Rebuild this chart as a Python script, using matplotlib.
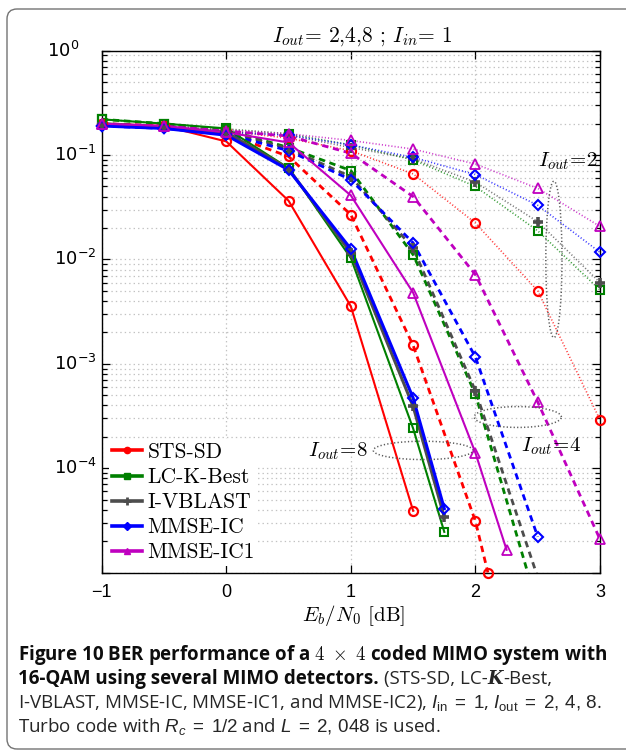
import numpy as np
import matplotlib
matplotlib.use('Agg')
import matplotlib.pyplot as plt
from matplotlib.lines import Line2D
from matplotlib.patches import FancyBboxPatch
from matplotlib.ticker import LogLocator, NullFormatter, FixedLocator

plt.rcParams['mathtext.fontset'] = 'cm'
plt.rcParams['mathtext.rm'] = 'Liberation Sans'
plt.rcParams['mathtext.it'] = 'Liberation Sans:italic'
plt.rcParams['mathtext.bf'] = 'Liberation Sans:bold'
plt.rcParams['lines.scale_dashes'] = False
plt.rcParams['axes.formatter.use_mathtext'] = True

# ---------------- data ----------------
detectors = ['STS-SD', 'LC-K-Best', 'I-VBLAST', 'MMSE-IC', 'MMSE-IC1']

# I_out = 8 (solid)
x8_sts = [-1, -0.5, 0, 0.5, 1, 1.5]
ber8_sts = [0.20, 0.19, 0.135, 0.0365, 0.00355, 3.9e-5]
x8 = [-1, -0.5, 0, 0.5, 1, 1.5, 1.75]
ber8_lck = [0.22, 0.20, 0.18, 0.075, 0.0103, 2.4e-4, 2.45e-5]
ber8_ivb = [0.20, 0.185, 0.165, 0.074, 0.0115, 3.9e-4, 3.4e-5]
ber8_mmse = [0.19, 0.18, 0.155, 0.072, 0.0126, 4.7e-4, 4.1e-5]
x8_ic1 = [-1, -0.5, 0, 0.5, 1, 1.5, 2, 2.25]
ber8_ic1 = [0.20, 0.19, 0.165, 0.132, 0.041, 0.0048, 1.4e-4, 1.65e-5]

# I_out = 4 (dashed)
x4_sts = [-1, -0.5, 0, 0.5, 1, 1.5, 2, 2.1]
ber4_sts = [0.20, 0.19, 0.16, 0.097, 0.0268, 1.5e-3, 3.1e-5, 1.0e-5]
x4 = [-1, -0.5, 0, 0.5, 1, 1.5, 2, 2.5]
ber4_lck = [0.22, 0.20, 0.175, 0.118, 0.071, 0.0111, 5.1e-4, 4.7e-6]
ber4_ivb = [0.20, 0.185, 0.168, 0.115, 0.062, 0.0128, 5.5e-4, 9.0e-6]
ber4_mmse = [0.19, 0.18, 0.16, 0.11, 0.058, 0.0144, 1.16e-3, 2.2e-5]
x4_ic1 = [-1, -0.5, 0, 0.5, 1, 1.5, 2, 2.5, 3]
ber4_ic1 = [0.20, 0.19, 0.17, 0.152, 0.104, 0.040, 0.00714, 4.3e-4, 2.08e-5]

# I_out = 2 (dotted)
x2 = [-1, -0.5, 0, 0.5, 1, 1.5, 2, 2.5, 3]
ber2_sts = [0.20, 0.19, 0.17, 0.145, 0.11, 0.066, 0.0223, 5.0e-3, 2.9e-4]
ber2_lck = [0.22, 0.20, 0.178, 0.16, 0.125, 0.090, 0.050, 0.0188, 0.0051]
ber2_ivb = [0.20, 0.185, 0.17, 0.155, 0.118, 0.092, 0.055, 0.023, 0.0060]
ber2_mmse = [0.19, 0.18, 0.165, 0.155, 0.125, 0.095, 0.065, 0.033, 0.0117]
ber2_ic1 = [0.20, 0.19, 0.175, 0.16, 0.138, 0.114, 0.082, 0.048, 0.0207]

xticks = [-1, 0, 1, 2, 3]
xticklabels = ['\u22121', '0', '1', '2', '3']
yexps = [0, -1, -2, -3, -4]

# annotation ellipses: (center x, center log10 y, half width dB, half height decades)
ell_2 = (2.63, -2.0, 0.065, 0.75)
ell_4 = (2.34, -3.51, 0.35, 0.10)
ell_8 = (1.58, -3.83, 0.40, 0.088)

# ---------------- style ----------------
colors = {'STS-SD': (1, 0, 0), 'LC-K-Best': (0, 0.5, 0), 'I-VBLAST': (0.3, 0.3, 0.3),
          'MMSE-IC': (0, 0, 1), 'MMSE-IC1': (0.75, 0, 0.75)}
markers = {'STS-SD': 'o', 'LC-K-Best': 's', 'I-VBLAST': '+', 'MMSE-IC': 'D', 'MMSE-IC1': '^'}
msizes = {'STS-SD': 6.5, 'LC-K-Best': 5.5, 'I-VBLAST': 7.5, 'MMSE-IC': 5.5, 'MMSE-IC1': 7.5}
mews = {'STS-SD': 1.6, 'LC-K-Best': 1.5, 'I-VBLAST': 2.6, 'MMSE-IC': 1.5, 'MMSE-IC1': 1.3}
solid_lw = {'STS-SD': 1.5, 'LC-K-Best': 1.5, 'I-VBLAST': 2.2, 'MMSE-IC': 2.2, 'MMSE-IC1': 1.5}

W, H = 626, 752
fig = plt.figure(figsize=(W / 100, H / 100), dpi=100)
ax = fig.add_axes([101.7 / W, 1 - 572.5 / H, (600 - 101.7) / W, (572.5 - 50.7) / H])
ax.set_yscale('log')
ax.set_xlim(-1, 3)
ax.set_ylim(1e-5, 1)
YMIN = 1e-5


def draw(xs, ys, name, style):
    c = colors[name]
    xs = np.asarray(xs, float)
    ys = np.asarray(ys, float)
    if style == 'solid':
        ax.plot(xs, ys, color=c, lw=solid_lw[name], ls='-', zorder=3)
    elif style == 'dashed':
        ax.plot(xs, ys, color=c, lw=2.0, dashes=(4.6, 3.4), zorder=3)
    else:
        ax.plot(xs, ys, color=c, lw=1.2, dashes=(0.8, 1.5), alpha=0.75, zorder=2)
    m = ys >= YMIN * 0.999
    ax.plot(xs[m], ys[m], ls='none', marker=markers[name], ms=msizes[name],
            mew=mews[name], mfc='none', mec=c, clip_on=False, zorder=4)


# dotted (I_out = 2)
for nm, yv in zip(detectors, [ber2_sts, ber2_lck, ber2_ivb, ber2_mmse, ber2_ic1]):
    draw(x2, yv, nm, 'dotted')
# dashed (I_out = 4)
for nm, xv, yv in zip(detectors, [x4_sts, x4, x4, x4, x4_ic1],
                      [ber4_sts, ber4_lck, ber4_ivb, ber4_mmse, ber4_ic1]):
    draw(xv, yv, nm, 'dashed')
# solid (I_out = 8)
for nm, xv, yv in zip(detectors, [x8_sts, x8, x8, x8, x8_ic1],
                      [ber8_sts, ber8_lck, ber8_ivb, ber8_mmse, ber8_ic1]):
    draw(xv, yv, nm, 'solid')

# ellipses
tt = np.linspace(0, 2 * np.pi, 300)
for cx, cy, a, b in (ell_2, ell_4, ell_8):
    ax.plot(cx + a * np.cos(tt), 10 ** (cy + b * np.sin(tt)), color='0.35',
            lw=1.1, dashes=(0.9, 1.6), zorder=5)

ax.text(2.985, 10 ** -1.055, r'$I_{out}\!=\!2$', ha='right', va='center', fontsize=15, zorder=6)
ax.text(0.897, 10 ** -3.837, r'$I_{out}\!=\!8$', ha='center', va='center', fontsize=15, zorder=6)
ax.text(2.606, 10 ** -3.79, r'$I_{out}\!=\!4$', ha='center', va='center', fontsize=15, zorder=6)

# grid / ticks
ax.xaxis.set_major_locator(FixedLocator(xticks))
ax.set_xticklabels(xticklabels, fontfamily='Liberation Sans', fontsize=13)
ax.yaxis.set_major_locator(LogLocator(base=10, numticks=10))
ax.yaxis.set_minor_locator(LogLocator(base=10, subs=np.arange(2, 10), numticks=20))
ax.yaxis.set_major_formatter(NullFormatter())
ax.yaxis.set_minor_formatter(NullFormatter())
ax.grid(True, which='major', axis='both', color='0.76', lw=0.9, dashes=(1, 2.2))
ax.grid(True, which='minor', axis='y', color='0.76', lw=0.9, dashes=(1, 2.2))
ax.set_axisbelow(True)
ax.tick_params(which='both', direction='in', top=True, right=True, width=0.9)
ax.tick_params(which='major', length=6, pad=8)
ax.tick_params(which='minor', length=3.5)
for sp in ax.spines.values():
    sp.set_linewidth(1.0)

# y tick labels (manual, Helvetica-like)
for e in yexps:
    xr = -0.045 if e == 0 else -0.01
    ax.text(xr, 10.0 ** e, r'$\mathdefault{10^{%d}}$' % e, transform=ax.get_yaxis_transform(),
            ha='right', va='center', fontsize=13, math_fontfamily='custom')

# legend
handles = [Line2D([], [], color=colors[n], lw=2.6, marker=markers[n],
                  ms=(4.5 if markers[n] != '+' else 6), mew=(1 if markers[n] != '+' else 2),
                  mfc=colors[n], mec=colors[n]) for n in detectors]
leg = ax.legend(handles, detectors, loc='lower left', prop={'family': 'cmr10', 'size': 15.5},
                handlelength=1.4, handletextpad=0.25, labelspacing=0.26, borderpad=0.15,
                borderaxespad=0.32, frameon=True, fancybox=False, framealpha=1)
leg.get_frame().set_edgecolor('none')
leg.set_zorder(7)

# title and x label
fig.text(362 / W, 1 - 37 / H, r'$I_{out}$= 2,4,8 ; $I_{in}$= 1', ha='center', va='center',
         fontfamily='cmr10', fontsize=15.5)
fig.text(354 / W, 1 - 616 / H, r'$E_b/N_0$ [dB]', ha='center', va='center',
         fontfamily='cmr10', fontsize=15)

# border
fig.patches.append(FancyBboxPatch((0.07, 0.03), 6.6, 7.40, boxstyle='round,pad=0,rounding_size=0.1',
                                  transform=fig.dpi_scale_trans, fc='none', ec='0.45', lw=1.0))

# caption
renderer = fig.canvas.get_renderer()
capfont = 'Open Sans'


def wid(s, **kw):
    t = fig.text(0, 0, s, **kw)
    w = t.get_window_extent(renderer).width
    t.remove()
    return w


bold = dict(fontfamily=capfont, fontweight='bold', color='0.05', math_fontfamily='cm')
reg = dict(fontfamily=capfont, color='0.15', math_fontfamily='custom')
line1 = r'Figure 10 BER performance of a $4\ \times\ 4$ coded MIMO system with'
w1 = wid(line1, fontsize=12, **bold)
cfs = 12 * 588 / w1
bold['fontsize'] = cfs
reg['fontsize'] = cfs


def place(segs, x0, yb):
    x = x0
    for s, kw, gap in segs:
        x += gap * wid('a a', **kw) - gap * wid('aa', **kw)
        t = fig.text(x / W, 1 - yb / H, s, ha='left', va='baseline', **kw)
        x = t.get_window_extent(renderer).x1


kbold = dict(fontfamily='DejaVu Serif', fontweight='bold', fontstyle='italic', color='0.15',
             fontsize=cfs * 0.95)
place([(line1, bold, 0)], 18, 660)
place([('16-QAM using several MIMO detectors.', bold, 0), ('(STS-SD, LC-', reg, 1),
       ('K', kbold, 0), ('-Best,', reg, 0)], 18, 684)
place([(r'I-VBLAST, MMSE-IC, MMSE-IC1, and MMSE-IC2), $I_{\mathrm{in}}\;=\;1$, '
        r'$I_{\mathrm{out}}\;=\;2,\,4,\,8$.', reg, 0)], 18, 708)
place([(r'Turbo code with $R_c\;=\;1/2$ and $L\;=\;2,\,048$ is used.', reg, 0)], 18, 732)

fig.savefig('out.png', dpi=100)
